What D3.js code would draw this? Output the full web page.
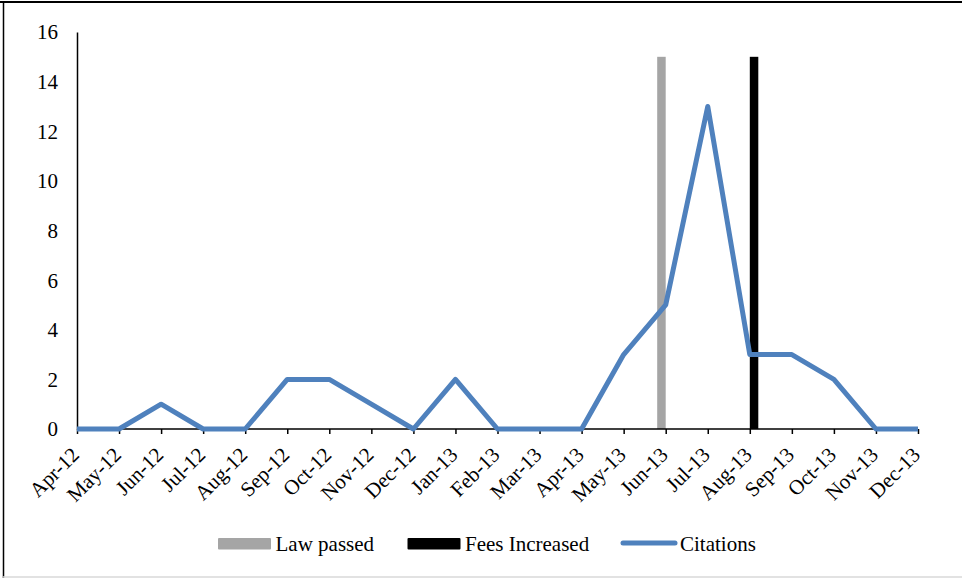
<!DOCTYPE html>
<html>
<head>
<meta charset="utf-8">
<script src="https://cdn.jsdelivr.net/npm/d3@7"></script>
<style>
  html, body { margin: 0; padding: 0; background: #fff; }
  svg { display: block; }
</style>
</head>
<body>
<svg id="chart" width="962" height="578"></svg>
<script>
// Monthly citation counts with the two policy events
const months = ["Apr-12","May-12","Jun-12","Jul-12","Aug-12","Sep-12","Oct-12","Nov-12","Dec-12",
                "Jan-13","Feb-13","Mar-13","Apr-13","May-13","Jun-13","Jul-13","Aug-13","Sep-13",
                "Oct-13","Nov-13","Dec-13"];
const citations = [0,0,1,0,0,2,2,1,0,2,0,0,0,3,5,13,3,3,2,0,0];
const lawPassed = [null,null,null,null,null,null,null,null,null,null,null,null,null,null,15,null,null,null,null,null,null];
const feesIncreased = [null,null,null,null,null,null,null,null,null,null,null,null,null,null,null,null,15,null,null,null,null];
const yTicks = [0,2,4,6,8,10,12,14,16];

const seriesNames = ["Law passed", "Fees Increased", "Citations"];
const colors = { law: "#a5a5a5", fees: "#000000", cit: "#4f81bd" };
const FONT = "'Liberation Serif', 'Times New Roman', Tinos, serif";
const FS = 21;

const svg = d3.select("#chart");
const W = 962, H = 578;
const plot = { left: 77, right: 918, top: 32, bottom: 429 };

// Frame around the chart area
svg.append("line").attr("x1", 0).attr("x2", W).attr("y1", 2).attr("y2", 2)
  .attr("stroke", "#000").attr("stroke-width", 2);
svg.append("line").attr("x1", 3.5).attr("x2", 3.5).attr("y1", 1).attr("y2", H)
  .attr("stroke", "#000").attr("stroke-width", 1.5);
svg.append("line").attr("x1", 3).attr("x2", W).attr("y1", 577).attr("y2", 577)
  .attr("stroke", "#d9d9d9").attr("stroke-width", 1.5);

const x = d3.scalePoint().domain(months).range([plot.left, plot.right]);
const y = d3.scaleLinear().domain([0, 16]).range([plot.bottom, plot.top]);
const barW = 8.5;

// Event columns: clustered pair straddling each month tick
const g = svg.append("g");
g.selectAll("rect.law").data(months.map((m, i) => ({ m, v: lawPassed[i] })).filter(d => d.v != null))
  .enter().append("rect").attr("class", "law")
  .attr("x", d => x(d.m) - barW).attr("width", barW)
  .attr("y", d => y(d.v)).attr("height", d => y(0) - y(d.v))
  .attr("fill", colors.law);
g.selectAll("rect.fees").data(months.map((m, i) => ({ m, v: feesIncreased[i] })).filter(d => d.v != null))
  .enter().append("rect").attr("class", "fees")
  .attr("x", d => x(d.m)).attr("width", barW)
  .attr("y", d => y(d.v)).attr("height", d => y(0) - y(d.v))
  .attr("fill", colors.fees);

// Y axis
const yAxis = d3.axisLeft(y).tickValues(yTicks).tickSize(0).tickPadding(19);
const yg = svg.append("g").attr("transform", `translate(${plot.left},0)`).call(yAxis)
  .attr("font-family", FONT);
yg.select(".domain").attr("stroke", "#000").attr("stroke-width", 1.5);
yg.selectAll("text").attr("font-family", FONT).attr("font-size", FS).attr("fill", "#000").attr("dy", "0.33em");

// X axis
const xAxis = d3.axisBottom(x).tickSize(5).tickPadding(0);
const xg = svg.append("g").attr("transform", `translate(0,${plot.bottom})`).call(xAxis)
  .attr("font-family", FONT);
xg.select(".domain").attr("stroke", "#000").attr("stroke-width", 1.5)
  .attr("d", `M${plot.left},0H${plot.right}`);
xg.selectAll(".tick line").attr("stroke", "#000").attr("stroke-width", 1.5);
xg.selectAll("text")
  .attr("font-family", FONT)
  .attr("font-size", FS)
  .attr("fill", "#000")
  .attr("text-anchor", "end")
  .attr("dy", 0)
  .attr("y", 0)
  .attr("transform", "translate(3,27) rotate(-45)");

// Citations line
const line = d3.line().x((d, i) => x(months[i])).y(d => y(d));
svg.append("path").datum(citations)
  .attr("d", line)
  .attr("fill", "none")
  .attr("stroke", colors.cit)
  .attr("stroke-width", 5)
  .attr("stroke-linejoin", "round")
  .attr("stroke-linecap", "butt");

// Legend
const leg = svg.append("g").attr("font-family", FONT).attr("font-size", FS);
const legItems = [
  { name: seriesNames[0], type: "rect", color: colors.law, x: 218, tx: 275.5 },
  { name: seriesNames[1], type: "rect", color: colors.fees, x: 407.5, tx: 465 },
  { name: seriesNames[2], type: "line", color: colors.cit, x: 623, tx: 680 }
];
legItems.forEach(it => {
  if (it.type === "rect") {
    leg.append("rect").attr("x", it.x).attr("y", 538).attr("width", 53).attr("height", 11.5)
      .attr("rx", 1).attr("fill", it.color);
  } else {
    leg.append("line").attr("x1", it.x).attr("x2", it.x + 52).attr("y1", 543).attr("y2", 543)
      .attr("stroke", it.color).attr("stroke-width", 5).attr("stroke-linecap", "round");
  }
  leg.append("text").attr("x", it.tx).attr("y", 550.5)
    .attr("font-family", FONT).attr("font-size", FS).attr("fill", "#000").text(it.name);
});
</script>
</body>
</html>
